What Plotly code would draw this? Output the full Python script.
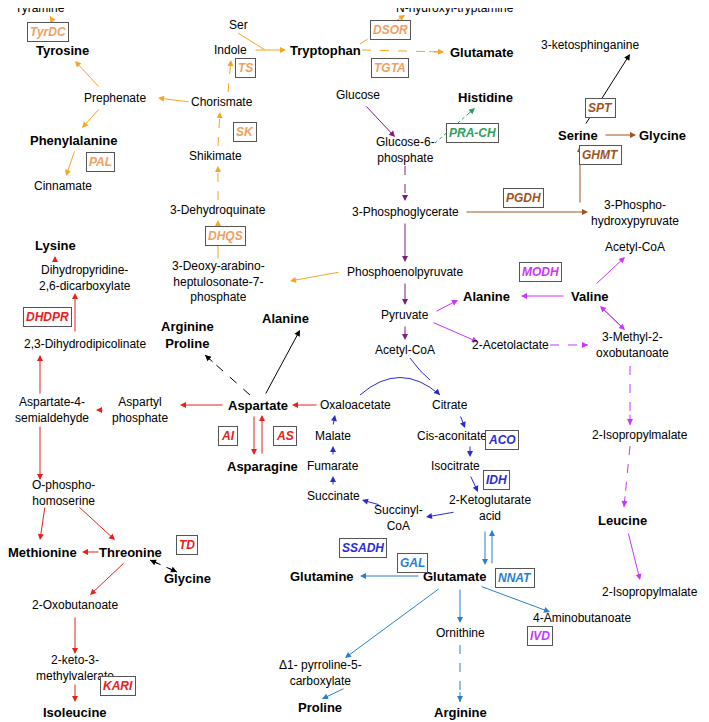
import plotly.graph_objects as go

# metabolite labels: (text, x, y, bold)
nodes = [
    ("Tyramine", 40, 8, 0), ("Tyrosine", 62, 50, 1), ("Prephenate", 115, 98, 0),
    ("Phenylalanine", 73, 140, 1), ("Cinnamate", 63, 186, 0), ("Lysine", 55, 245, 1),
    ("Dihydropyridine-<br>2,6-dicarboxylate", 85, 278, 0), ("2,3-Dihydrodipicolinate", 85, 344, 0),
    ("Aspartate-4-<br>semialdehyde", 52, 410, 0), ("Aspartyl<br>phosphate", 140, 410, 0),
    ("O-phospho-<br>homoserine", 63, 493, 0), ("Methionine", 42, 552, 1), ("Threonine", 130, 552, 1),
    ("2-Oxobutanoate", 75, 605, 0), ("Glycine", 187, 578, 1),
    ("2-keto-3-<br>methylvalerate", 75, 668, 0), ("Isoleucine", 75, 712, 1),
    ("Ser", 238, 25, 0), ("Indole", 230, 50, 0), ("Tryptophan", 325, 50, 1),
    ("Chorismate", 222, 102, 0), ("Shikimate", 215, 156, 0), ("3-Dehydroquinate", 218, 210, 0),
    ("3-Deoxy-arabino-<br>heptulosonate-7-<br>phosphate", 218, 281, 0),
    ("Phosphoenolpyruvate", 405, 272, 0), ("N-hydroxyl-tryptamine", 455, 8, 0),
    ("Glutamate", 482, 52, 1), ("Glucose", 358, 95, 0), ("Histidine", 485, 97, 1),
    ("Glucose-6-<br>phosphate", 405, 150, 0), ("3-Phosphoglycerate", 405, 212, 0),
    ("3-ketosphinganine", 590, 45, 0), ("Serine", 578, 135, 1), ("Glycine", 662, 135, 1),
    ("3-Phospho-<br>hydroxypyruvate", 635, 213, 0), ("Acetyl-CoA", 635, 247, 0),
    ("Alanine", 486, 296, 1), ("Valine", 590, 296, 1), ("Pyruvate", 405, 315, 0),
    ("Acetyl-CoA", 405, 350, 0), ("2-Acetolactate", 510, 345, 0),
    ("3-Methyl-2-<br>oxobutanoate", 632, 345, 0), ("Arginine<br>Proline", 187, 335, 1),
    ("Alanine", 285, 318, 1), ("Aspartate", 258, 405, 1), ("Oxaloacetate", 355, 405, 0),
    ("Citrate", 450, 405, 0), ("Cis-aconitate", 452, 436, 0), ("Malate", 333, 436, 0),
    ("Fumarate", 333, 466, 0), ("Isocitrate", 455, 466, 0), ("Succinate", 333, 496, 0),
    ("2-Ketoglutarate<br>acid", 490, 508, 0), ("Succinyl-<br>CoA", 398, 518, 0),
    ("Asparagine", 262, 466, 1), ("2-Isopropylmalate", 640, 435, 0), ("Leucine", 622, 520, 1),
    ("2-Isopropylmalate", 650, 592, 0), ("Glutamine", 322, 576, 1), ("Glutamate", 455, 576, 1),
    ("4-Aminobutanoate", 582, 618, 0), ("Δ1- pyrroline-5-<br>carboxylate", 320, 673, 0),
    ("Ornithine", 460, 633, 0), ("Proline", 320, 707, 1), ("Arginine", 460, 712, 1),
]

ORG, BRN, PUR, MAG, RED, BLU, LBL, GRN = ("#f5a623", "#a0521d", "#7b1f7b", "#cc33ff",
                                          "#e8201c", "#2b2bd1", "#2a7fcc", "#2e9e60")
ORG_T = "#f0a060"

# enzyme boxes: (text, x, y, colour)
enzymes = [
    ("TyrDC", 48, 32, ORG_T), ("PAL", 100, 162, ORG_T), ("SK", 245, 132, ORG_T),
    ("TS", 245, 68, ORG_T), ("DHQS", 225, 236, ORG_T), ("DSOR", 390, 30, ORG_T),
    ("TGTA", 390, 68, ORG_T), ("PRA-CH", 472, 133, GRN), ("SPT", 600, 108, BRN),
    ("GHMT", 600, 155, BRN), ("PGDH", 523, 198, BRN), ("MODH", 540, 272, MAG),
    ("DHDPR", 47, 317, RED), ("AI", 228, 436, RED), ("AS", 285, 436, RED),
    ("TD", 187, 545, RED), ("KARI", 118, 686, RED), ("ACO", 502, 440, BLU),
    ("IDH", 496, 480, BLU), ("SSADH", 363, 548, BLU), ("NNAT", 515, 578, LBL),
    ("GAL", 412, 563, LBL), ("IVD", 540, 636, MAG),
]

# arrows: (x0, y0, x1, y1, colour, dashed)
arrows = [
    (62, 38, 50, 16, ORG, 1), (100, 88, 75, 61, ORG, 0), (100, 108, 82, 128, ORG, 0),
    (75, 150, 66, 176, ORG, 0), (190, 102, 158, 98, ORG, 0), (228, 92, 231, 60, ORG, 1),
    (254, 50, 286, 50, ORG, 0), (218, 146, 220, 112, ORG, 1), (218, 200, 218, 166, ORG, 1),
    (218, 260, 218, 220, ORG, 0), (340, 272, 290, 281, ORG, 0),
    (360, 44, 405, 15, ORG, 1), (362, 50, 444, 52, ORG, 1),
    (365, 105, 395, 137, PUR, 0), (405, 166, 405, 201, PUR, 1), (405, 222, 405, 262, PUR, 0),
    (405, 282, 405, 305, PUR, 0), (405, 325, 405, 340, PUR, 0),
    (435, 143, 475, 108, GRN, 2),
    (465, 212, 588, 212, BRN, 0), (580, 204, 580, 146, BRN, 0), (604, 135, 636, 135, BRN, 0),
    (585, 125, 630, 54, "black", 0),
    (565, 296, 521, 296, MAG, 0), (435, 312, 458, 300, MAG, 0), (432, 322, 478, 342, MAG, 0),
    (595, 285, 625, 257, MAG, 0), (600, 306, 625, 330, MAG, 0), (625, 330, 600, 306, MAG, 0),
    (550, 345, 588, 345, MAG, 1), (630, 366, 630, 425, MAG, 1), (630, 446, 624, 507, MAG, 1),
    (628, 532, 640, 580, MAG, 0),
    (224, 405, 180, 405, RED, 0), (104, 410, 96, 410, RED, 0), (40, 395, 40, 355, RED, 0),
    (75, 333, 75, 293, RED, 0), (55, 262, 55, 256, RED, 0), (40, 425, 40, 480, RED, 0),
    (78, 506, 115, 540, RED, 0), (45, 506, 40, 540, RED, 0), (100, 552, 82, 552, RED, 0),
    (125, 562, 90, 595, RED, 0), (75, 616, 75, 654, RED, 0), (75, 683, 75, 702, RED, 0),
    (254, 415, 254, 455, RED, 0), (262, 455, 262, 415, RED, 0), (318, 405, 292, 405, RED, 0),
    (150, 560, 177, 572, "black", 1), (177, 572, 150, 560, "black", 1),
    (265, 395, 300, 330, "black", 0), (250, 395, 205, 355, "black", 1),
    (460, 415, 465, 428, BLU, 0), (470, 445, 470, 457, BLU, 0), (470, 475, 478, 492, BLU, 0),
    (455, 512, 426, 517, BLU, 0), (380, 505, 362, 500, BLU, 0), (333, 486, 333, 476, BLU, 0),
    (333, 456, 333, 446, BLU, 0), (333, 426, 335, 415, BLU, 0),
    (485, 530, 485, 565, LBL, 0), (492, 565, 492, 530, LBL, 0), (420, 576, 360, 576, LBL, 0),
    (480, 586, 550, 612, LBL, 0), (440, 588, 345, 658, LBL, 0), (460, 588, 460, 623, LBL, 0),
    (345, 688, 322, 699, LBL, 0), (460, 645, 460, 702, LBL, 1),
]

fig = go.Figure()
ann = []
shapes = []
for x0, y0, x1, y1, c, d in arrows:
    if d:
        shapes.append(dict(type="line", x0=x0, y0=y0, x1=x1, y1=y1, xref="x", yref="y",
                           line=dict(color=c, width=1, dash="dot" if d == 2 else "dash")))
        ann.append(dict(x=x1, y=y1, ax=x1 - (x1 - x0) * 0.2, ay=y1 - (y1 - y0) * 0.2,
                        xref="x", yref="y", axref="x", ayref="y", text="", showarrow=True,
                        arrowhead=2, arrowsize=1.2, arrowwidth=1, arrowcolor=c))
    else:
        ann.append(dict(x=x1, y=y1, ax=x0, ay=y0, xref="x", yref="y", axref="x", ayref="y",
                        text="", showarrow=True, arrowhead=2, arrowsize=1.2, arrowwidth=1,
                        arrowcolor=c))

# TCA arc: oxaloacetate -> citrate, with acetyl-CoA joining
shapes.append(dict(type="path", path="M 360 395 Q 400 360 440 395", xref="x", yref="y",
                   line=dict(color=BLU, width=1)))
shapes.append(dict(type="path", path="M 410 358 Q 420 372 430 380", xref="x", yref="y",
                   line=dict(color=BLU, width=1)))
ann.append(dict(x=440, y=395, ax=436, ay=391, xref="x", yref="y", axref="x", ayref="y",
                text="", showarrow=True, arrowhead=2, arrowsize=1.2, arrowwidth=1, arrowcolor=BLU))
shapes.append(dict(type="line", x0=238, y0=33, x1=265, y1=50, xref="x", yref="y",
                   line=dict(color=ORG, width=1)))

for t, x, y, b in nodes:
    ann.append(dict(x=x, y=y, xref="x", yref="y", showarrow=False,
                    text="<b>%s</b>" % t if b else t,
                    font=dict(size=13 if b else 12, color="black")))
for t, x, y, c in enzymes:
    ann.append(dict(x=x, y=y, xref="x", yref="y", showarrow=False,
                    text="<b><i>%s</i></b>" % t, font=dict(size=12, color=c),
                    bgcolor="white", bordercolor="#555", borderwidth=1, borderpad=2))

# page body margin (8px) offsets the plot, so the ranges start at 8
fig.update_layout(width=709, height=722, margin=dict(l=0, r=0, t=0, b=0),
                  plot_bgcolor="white", paper_bgcolor="white",
                  font=dict(family="Liberation Sans, Arial"),
                  xaxis=dict(range=[8, 717], visible=False),
                  yaxis=dict(range=[730, 8], visible=False),
                  annotations=ann, shapes=shapes, showlegend=False)
fig.write_html("out.html")
